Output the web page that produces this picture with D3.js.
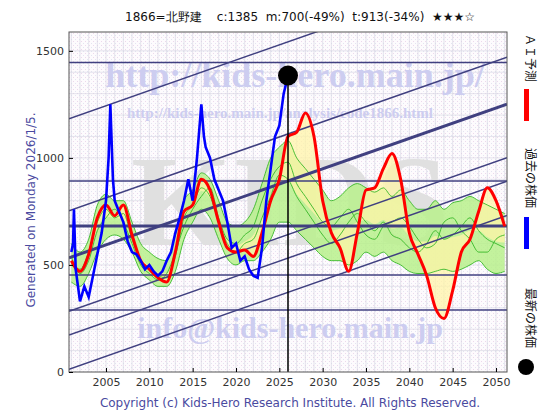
<!DOCTYPE html>
<html><head><meta charset="utf-8">
<script src="https://cdn.jsdelivr.net/npm/d3@7"></script>
<style>body{margin:0;background:#fff}</style>
</head><body>
<script>
// chart values
const blueYears = [2001.0,2001.2,2001.3,2001.5,2002,2002.5,2003,2003.5,2004,2004.5,2005,2005.3,2005.5,2005.8,2006,2006.5,2007,2007.5,2008,2008.5,2009,2009.5,2010,2010.5,2011,2011.5,2012,2012.5,2013,2013.5,2014,2014.5,2015,2015.5,2016,2016.3,2016.5,2017,2017.5,2018,2018.5,2019,2019.5,2020,2020.5,2021,2021.5,2022,2022.5,2023,2023.5,2024,2024.5,2025,2025.5,2025.8,2026.0];
const blueVals  = [560,600,760,480,330,400,350,450,550,650,800,1000,1250,900,800,750,700,610,560,550,520,480,500,470,450,470,520,560,650,720,800,900,800,1000,1250,1100,1050,1000,900,850,800,700,580,600,520,540,480,450,440,580,800,950,1100,1150,1300,1350,1385];
const redYears = d3.range(2001, 2052);
const redVals = [520,470,550,720,780,730,780,640,520,480,440,420,560,750,780,900,850,700,580,560,570,540,650,800,900,1100,1120,1210,1100,800,650,580,470,650,850,860,950,1020,900,650,550,450,300,250,380,560,620,750,860,800,680];
const bandHi = [600,560,620,780,830,800,800,700,600,560,530,520,640,800,850,930,900,800,700,680,700,760,880,1000,1050,1080,1000,950,900,850,800,820,860,880,860,840,860,820,850,800,760,760,800,760,790,800,820,800,780,760,740];
const bandLo = [420,400,460,560,620,640,620,560,470,430,400,400,470,620,700,760,720,620,530,500,520,520,560,620,700,700,660,620,580,540,520,520,500,520,560,540,560,520,500,470,460,460,470,480,470,480,500,520,480,460,470];
const greenA = [500,480,560,700,760,720,740,620,520,480,450,440,540,720,780,860,820,700,600,560,600,620,720,820,920,900,820,760,700,640,600,640,700,740,700,660,700,640,620,580,560,600,660,620,640,680,720,660,620,600,580];
const greenB = [540,460,520,660,720,760,700,600,500,460,430,460,560,680,760,820,860,720,620,600,640,680,800,900,960,980,880,820,760,700,680,720,760,700,640,620,680,700,720,680,620,580,600,700,720,660,620,560,560,620,640];
const hLines = [1445, 892, 682, 453, 290];
const diagOffsets = [650, 220, 0, -250, -360, -520];
const diagBase = 537, diagSlope = 14.2; // value at 2001, per year
const yTicks = [0, 500, 1000, 1500];
const xTicks = [2005,2010,2015,2020,2025,2030,2035,2040,2045,2050];

const W = 560, H = 420, L = 69, R = 507, T = 32, B = 372;
const x = d3.scaleLinear().domain([2000.73, 2051.27]).range([L, R]);
const y = d3.scaleLinear().domain([0, 1588]).range([B, T]);
const sans = "DejaVu Sans, sans-serif", serif = "Liberation Serif, DejaVu Serif, serif";

const svg = d3.select("body").append("svg").attr("width", W).attr("height", H).style("font-family", sans);
const defs = svg.append("defs");
const pat = defs.append("pattern").attr("id","dots").attr("width",4).attr("height",4).attr("patternUnits","userSpaceOnUse");
pat.append("rect").attr("width",4).attr("height",4).attr("fill","#fdfbfd");
pat.append("rect").attr("x",1).attr("y",1).attr("width",1).attr("height",1).attr("fill","#ecd8ec");
pat.append("rect").attr("x",3).attr("y",3).attr("width",1).attr("height",1).attr("fill","#e4e4f2");
defs.append("clipPath").attr("id","clip").append("rect").attr("x",L).attr("y",T).attr("width",R-L).attr("height",B-T);

svg.append("rect").attr("x",L).attr("y",T).attr("width",R-L).attr("height",B-T).attr("fill","url(#dots)");

const g = svg.append("g").attr("clip-path","url(#clip)");
// grid
g.selectAll(".gx").data(d3.range(2001, 2052)).enter().append("line")
  .attr("x1", d => x(d)).attr("x2", d => x(d)).attr("y1", T).attr("y2", B)
  .attr("stroke", "#d4d4e0").attr("stroke-width", 0.6);
g.selectAll(".gy").data(d3.range(100, 1600, 100)).enter().append("line")
  .attr("y1", d => y(d)).attr("y2", d => y(d)).attr("x1", L).attr("x2", R)
  .attr("stroke", "#d4d4e0").attr("stroke-width", 0.6);

// watermarks
const wm = (txt, cx, cy, size, col) => g.append("text").attr("x",cx).attr("y",cy).attr("text-anchor","middle")
  .style("font-family", serif).attr("font-size",size).attr("font-weight","bold").attr("fill",col).text(txt);
wm("KIDS", 290, 245, 130, "#e0e0e0");
wm("http://kids-hero.main.jp/", 295, 87, 36, "#cdcdf0");
wm("http://kids-hero.main.jp/analysis/code1866.html", 280, 118, 15, "#cdcdf0");
wm("info@kids-hero.main.jp", 290, 338, 30, "#cdcdf0");

// green band + yellow
g.append("path").datum(redYears).attr("fill","#b8f08c").attr("opacity",0.85)
  .attr("d", d3.area().curve(d3.curveMonotoneX).x(d => x(d)).y0((d,i) => y(bandLo[i])).y1((d,i) => y(bandHi[i])));
g.append("path").datum(redYears).attr("fill","#fff4a8").attr("opacity",0.75)
  .attr("d", d3.area().curve(d3.curveMonotoneX).x(d => x(d)).y0((d,i) => y((bandLo[i]+bandHi[i])/2)).y1((d,i) => y(redVals[i])));
[bandHi, bandLo, greenA, greenB].forEach(arr => {
  g.append("path").datum(redYears).attr("fill","none").attr("stroke","#38b828").attr("stroke-width",0.9)
    .attr("d", d3.line().curve(d3.curveMonotoneX).x(d => x(d)).y((d,i) => y(arr[i])));
});

// horizontal level lines
g.selectAll(".hl").data(hLines).enter().append("line")
  .attr("x1", L).attr("x2", R).attr("y1", d => y(d)).attr("y2", d => y(d))
  .attr("stroke", "#404080").attr("stroke-width", (d,i) => i === 2 ? 3 : 1.5);
// diagonal trend channel
g.selectAll(".dl").data(diagOffsets).enter().append("line")
  .attr("x1", x(2000.73)).attr("x2", x(2051.27))
  .attr("y1", d => y(diagBase + d - diagSlope*0.27)).attr("y2", d => y(diagBase + d + diagSlope*50.27))
  .attr("stroke", "#404080").attr("stroke-width", d => d === 0 ? 3 : 1.5);

// red prediction
g.append("path").datum(redYears).attr("fill","none").attr("stroke","#ff0000").attr("stroke-width",3)
  .attr("d", d3.line().curve(d3.curveMonotoneX).x(d => x(d)).y((d,i) => y(redVals[i])));
// blue price
g.append("path").datum(blueYears).attr("fill","none").attr("stroke","#0000ff").attr("stroke-width",2.6)
  .attr("d", d3.line().x(d => x(d)).y((d,i) => y(blueVals[i])));

// now line and dot
svg.append("line").attr("x1", x(2026)).attr("x2", x(2026)).attr("y1", y(1385)).attr("y2", B).attr("stroke","#000").attr("stroke-width",1.5);
svg.append("circle").attr("cx", x(2026)).attr("cy", y(1385)).attr("r", 10).attr("fill","#000");

// axes
svg.append("rect").attr("x",L).attr("y",T).attr("width",R-L).attr("height",B-T).attr("fill","none").attr("stroke","#555");
svg.append("g").attr("transform",`translate(0,${B})`)
  .call(d3.axisBottom(x).tickValues(xTicks).tickFormat(d3.format("d")).tickSize(-4).tickPadding(6))
  .call(a => a.select(".domain").remove())
  .call(a => a.selectAll("text").attr("font-size",11).attr("fill","#333").style("font-family", sans));
svg.append("g").attr("transform",`translate(${L},0)`)
  .call(d3.axisLeft(y).tickValues(yTicks).tickFormat(d3.format("d")).tickSize(-4).tickPadding(5))
  .call(a => a.select(".domain").remove())
  .call(a => a.selectAll("text").attr("font-size",11).attr("fill","#333").style("font-family", sans));

// titles
svg.append("text").attr("x",300).attr("y",21).attr("text-anchor","middle").attr("font-size",12).attr("fill","#111")
  .attr("xml:space","preserve").text("1866=北野建    c:1385  m:700(-49%)  t:913(-34%)  ★★★☆");
svg.append("text").attr("transform","translate(35,210) rotate(-90)").attr("text-anchor","middle")
  .attr("font-size",12).attr("fill","#4a4aa0").text("Generated on Monday 2026/1/5.");
svg.append("text").attr("x",290).attr("y",407).attr("text-anchor","middle").attr("font-size",12).attr("fill","#4a4aa0")
  .text("Copyright (c) Kids-Hero Research Institute. All Rights Reserved.");

// legend on right
const lg = svg.append("g").style("font-family","Noto Sans CJK JP").attr("font-size",12).attr("fill","#111");
lg.append("text").attr("transform","translate(526,34) rotate(90)").text("ＡＩ予測");
lg.append("rect").attr("x",524).attr("y",89).attr("width",5).attr("height",32).attr("fill","#ff0000");
lg.append("text").attr("transform","translate(526,148) rotate(90)").text("過去の株価");
lg.append("rect").attr("x",524).attr("y",217).attr("width",5).attr("height",32).attr("fill","#0000ff");
lg.append("text").attr("transform","translate(526,288) rotate(90)").text("最新の株価");
lg.append("circle").attr("cx",526).attr("cy",367).attr("r",8).attr("fill","#000");
</script>
</body></html>
